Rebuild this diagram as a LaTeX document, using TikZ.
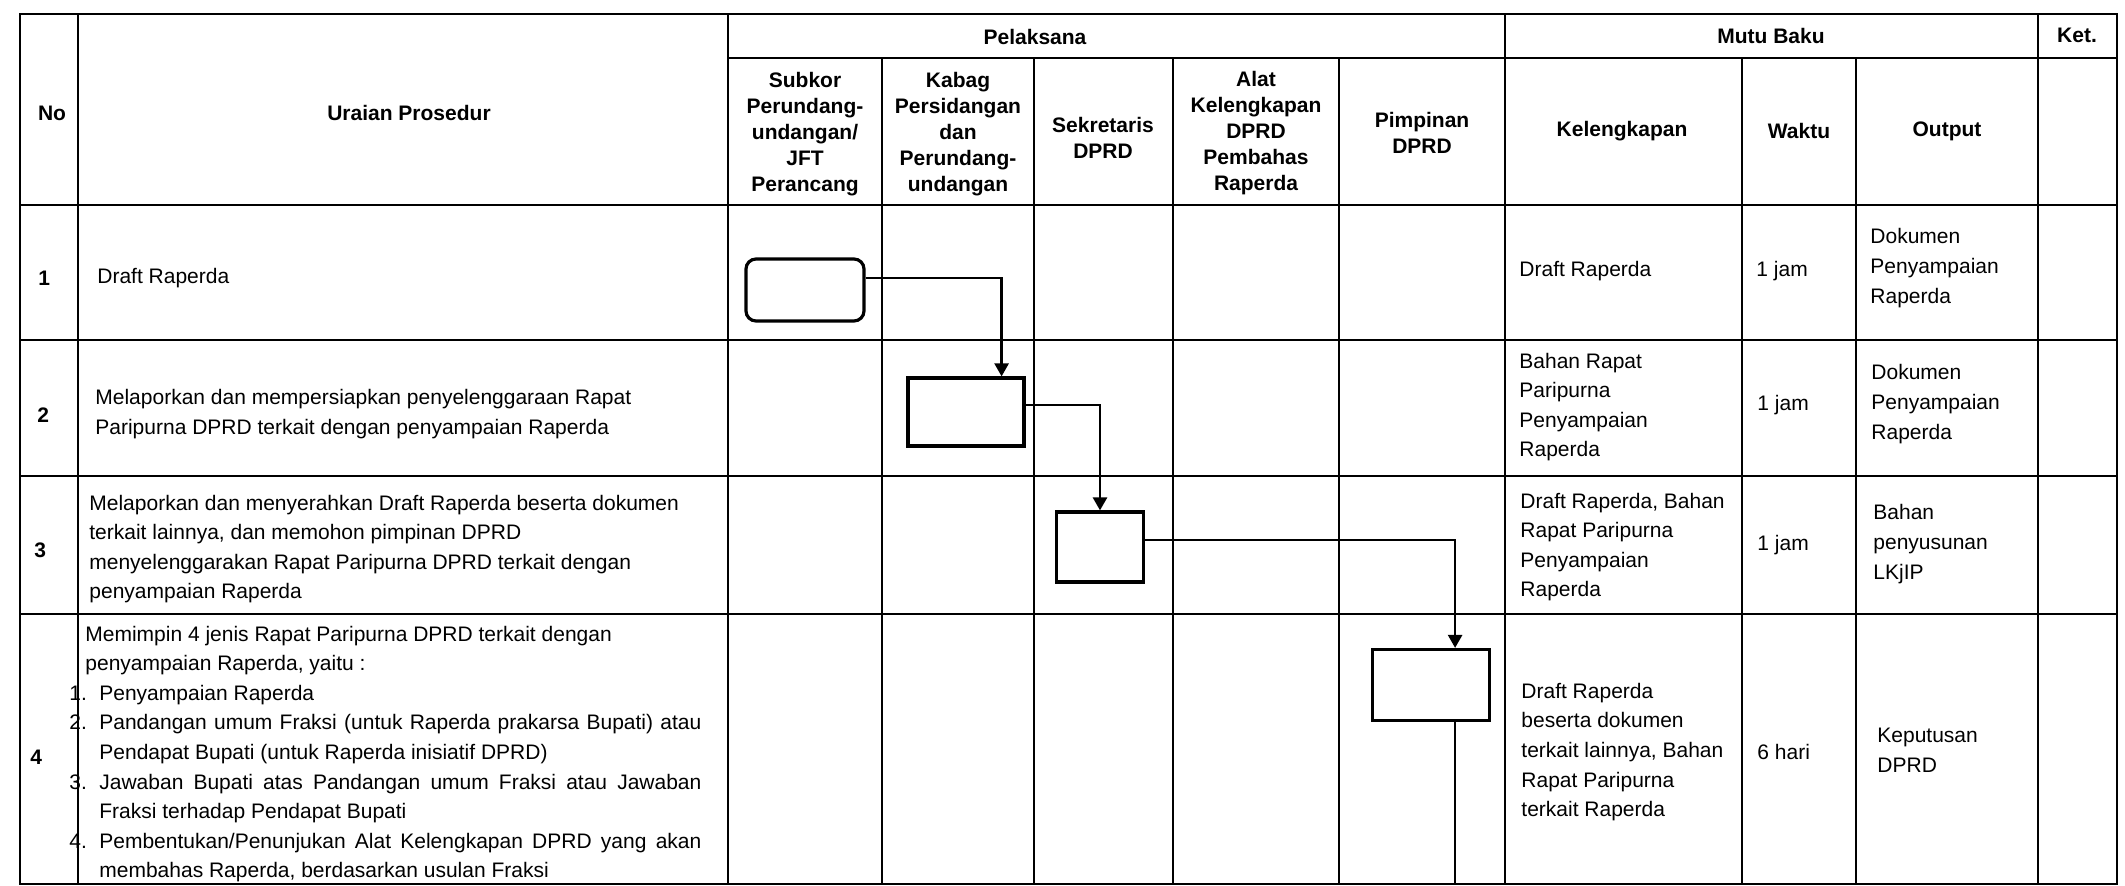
\documentclass[tikz,border=0pt]{standalone}
\usepackage{fontspec}
\setmainfont{Liberation Sans}
\usetikzlibrary{arrows.meta,positioning}
\tikzset{
  tableline/.style={line width=1.1pt},
  headtext/.style={font=\bfseries\fontsize{10.5}{13}\selectfont, align=center, inner sep=0pt},
  numtext/.style={font=\bfseries\fontsize{10.5}{13}\selectfont, anchor=west, inner sep=0pt},
  celltext/.style={font=\fontsize{10.5}{14.8}\selectfont, align=left, anchor=west, inner sep=0pt},
  startbox/.style={draw, line width=1.6pt, rounded corners=5pt, inner sep=0pt},
  procbox/.style={draw, line width=1.6pt, inner sep=0pt},
  arrow/.style={-{Triangle[length=6.5pt,width=7pt]}, line width=1.3pt},
  flowline/.style={line width=1.3pt}
}
\newcommand{\itemno}[1]{\makebox[15pt][l]{#1}}
\newcommand{\fullline}[1]{\makebox[301pt][s]{#1}}

\begin{document}
\begin{tikzpicture}[x=0.5pt, y=-0.5pt]
  \useasboundingbox (0,0) rectangle (2125,886);

  % table grid
  \draw[tableline] (20,14) rectangle (2117,884);
  \draw[tableline] (728,58) -- (2117,58);
  \foreach \y in {205,340,476,614}
    \draw[tableline] (20,\y) -- (2117,\y);
  \foreach \x in {78,728,1505,2038}
    \draw[tableline] (\x,14) -- (\x,884);
  \foreach \x in {882,1034,1173,1339,1742,1856}
    \draw[tableline] (\x,58) -- (\x,884);

  % header
  \node[headtext] (hno) at (52,113) {No};
  \node[headtext] (huraian) at (409,113) {Uraian Prosedur};
  \node[headtext] (hpelaksana) at (1035,37) {Pelaksana};
  \node[headtext] (hmutu) at (1771,36) {Mutu Baku};
  \node[headtext] (hket) at (2077,35) {Ket.};
  \node[headtext] (hsubkor) at (805,134) {Subkor\\Perundang-\\undangan/\\JFT\\Perancang};
  \node[headtext] (hkabag) at (958,134) {Kabag\\Persidangan\\dan\\Perundang-\\undangan};
  \node[headtext] (hsekwan) at (1103,138) {Sekretaris\\DPRD};
  \node[headtext] (halat) at (1256,133) {Alat\\Kelengkapan\\DPRD\\Pembahas\\Raperda};
  \node[headtext] (hpimpinan) at (1422,133) {Pimpinan\\DPRD};
  \node[headtext] (hkelengkapan) at (1622,131) {Kelengkapan};
  \node[headtext] (hwaktu) at (1799,131) {Waktu};
  \node[headtext] (houtput) at (1947,131) {Output};

  % row 1
  \node[numtext] (n1) at (38,278) {1};
  \node[celltext] (u1) at (97,278) {Draft Raperda};
  \node[celltext] (k1) at (1519,271) {Draft Raperda};
  \node[celltext] (w1) at (1756,271) {1 jam};
  \node[celltext] (o1) at (1870,268) {Dokumen\\Penyampaian\\Raperda};

  % row 2
  \node[numtext] (n2) at (37,415) {2};
  \node[celltext] (u2) at (95,414) {Melaporkan dan mempersiapkan penyelenggaraan Rapat\\Paripurna DPRD terkait dengan penyampaian Raperda};
  \node[celltext] (k2) at (1519,407) {Bahan Rapat\\Paripurna\\Penyampaian\\Raperda};
  \node[celltext] (w2) at (1757,405) {1 jam};
  \node[celltext] (o2) at (1871,404) {Dokumen\\Penyampaian\\Raperda};

  % row 3
  \node[numtext] (n3) at (34,550) {3};
  \node[celltext] (u3) at (89,549) {Melaporkan dan menyerahkan Draft Raperda beserta dokumen\\terkait lainnya, dan memohon pimpinan DPRD\\menyelenggarakan Rapat Paripurna DPRD terkait dengan\\penyampaian Raperda};
  \node[celltext] (k3) at (1520,547) {Draft Raperda, Bahan\\Rapat Paripurna\\Penyampaian\\Raperda};
  \node[celltext] (w3) at (1757,545) {1 jam};
  \node[celltext] (o3) at (1873,544) {Bahan\\penyusunan\\LKjIP};

  % row 4
  \node[numtext] (n4) at (30,757) {4};
  \node[celltext] (u4) at (69,754) {\hspace*{8pt}Memimpin 4 jenis Rapat Paripurna DPRD terkait dengan\\
    \hspace*{8pt}penyampaian Raperda, yaitu :\\
    \itemno{1.}Penyampaian Raperda\\
    \itemno{2.}\fullline{Pandangan umum Fraksi (untuk Raperda prakarsa Bupati) atau}\\
    \itemno{}Pendapat Bupati (untuk Raperda inisiatif DPRD)\\
    \itemno{3.}\fullline{Jawaban Bupati atas Pandangan umum Fraksi atau Jawaban}\\
    \itemno{}Fraksi terhadap Pendapat Bupati\\
    \itemno{4.}\fullline{Pembentukan/Penunjukan Alat Kelengkapan DPRD yang akan}\\
    \itemno{}membahas Raperda, berdasarkan usulan Fraksi};
  \node[celltext] (k4) at (1521,752) {Draft Raperda\\beserta dokumen\\terkait lainnya, Bahan\\Rapat Paripurna\\terkait Raperda};
  \node[celltext] (w4) at (1757,752) {6 hari};
  \node[celltext] (o4) at (1877,750) {Keputusan\\DPRD};

  % flow
  \node[startbox, minimum width=59pt, minimum height=31pt] (draft) at (805,290) {};
  \node[procbox, minimum width=58pt, minimum height=34pt] (lapor) at (966,412) {};
  \node[procbox, minimum width=43.5pt, minimum height=35pt] (serah) at (1100,547) {};
  \node[procbox, minimum width=58.5pt, minimum height=35.5pt] (pimpin) at (1431,685) {};
  \coordinate (lanjut) at ([xshift=-18pt]pimpin.south east |- 0,884);

  \draw[arrow] ([yshift=6pt]draft.east) -| ([xshift=-12pt]lapor.north east);
  \draw[arrow] ([yshift=3.5pt]lapor.east) -| (serah.north);
  \draw[arrow] ([yshift=3.5pt]serah.east) -| ([xshift=-18pt]pimpin.north east);
  \draw[flowline] ([xshift=-18pt]pimpin.south east) -- (lanjut);
\end{tikzpicture}
\end{document}
